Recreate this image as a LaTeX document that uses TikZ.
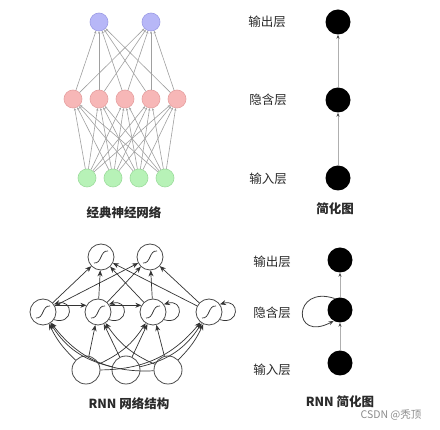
\documentclass[tikz,border=0pt]{standalone}
\usepackage{fontspec}
\newfontfamily\cjk{Noto Sans CJK SC}
\usetikzlibrary{arrows.meta,calc}
\definecolor{blueF}{HTML}{B7B7F7}
\definecolor{blueD}{HTML}{9C9CE6}
\definecolor{pinkF}{HTML}{F7B7B7}
\definecolor{pinkD}{HTML}{E6A0A0}
\definecolor{greenF}{HTML}{B7F2B7}
\definecolor{greenD}{HTML}{9CDC9C}
\definecolor{txt}{HTML}{2A2A2A}
\begin{document}
\begin{tikzpicture}[x=1pt,y=-1pt,
  cnode/.style={circle,minimum size=18pt,inner sep=0pt,line width=0.6pt},
  tedge/.style={draw={rgb,255:red,160;green,160;blue,160},line width=0.6pt,-{Stealth[length=2.5pt,width=2.2pt]}},
  bnode/.style={circle,fill=black,minimum size=25pt,inner sep=0pt},
  sedge/.style={draw={rgb,255:red,175;green,175;blue,175},line width=0.8pt,-{Stealth[length=4pt,width=3pt,color=black!70]}},
  rnode/.style={circle,draw=black!70,line width=0.8pt,fill=white,minimum size=#1,inner sep=0pt},
  rarrow/.style={draw=black!80,line width=0.7pt,-{Stealth[length=6pt,width=5pt]}},
  sig/.style={draw=black!80,line width=0.7pt},
  lab/.style={font=\cjk\fontsize{12.5}{14}\selectfont,text=txt},
  captext/.style={font=\cjk\bfseries\fontsize{12.5}{14}\selectfont,text=txt}]
\path[fill=white,use as bounding box] (0,0) rectangle (440,430);

% ---------- classical network ----------
\node[cnode,fill=blueF,draw=blueD] (b1) at (99,22) {};
\node[cnode,fill=blueF,draw=blueD] (b2) at (151,22) {};
\node[cnode,fill=pinkF,draw=pinkD] (p1) at (73,99) {};
\node[cnode,fill=pinkF,draw=pinkD] (p2) at (99,99) {};
\node[cnode,fill=pinkF,draw=pinkD] (p3) at (125,99) {};
\node[cnode,fill=pinkF,draw=pinkD] (p4) at (151,99) {};
\node[cnode,fill=pinkF,draw=pinkD] (p5) at (177,99) {};
\node[cnode,fill=greenF,draw=greenD] (g1) at (87,178) {};
\node[cnode,fill=greenF,draw=greenD] (g2) at (113,178) {};
\node[cnode,fill=greenF,draw=greenD] (g3) at (139,178) {};
\node[cnode,fill=greenF,draw=greenD] (g4) at (165,178) {};
\foreach \i in {1,...,4}
  \foreach \j in {1,...,5}
    \draw[tedge] (g\i) -- (p\j);
\foreach \i in {1,...,5}
  \foreach \j in {1,2}
    \draw[tedge] (p\i) -- (b\j);
\node[captext] (cap1) at (124,213) {经典神经网络};

% ---------- simplified ----------
\node[bnode] (t1) at (338,22) {};
\node[bnode] (t2) at (338,100) {};
\node[bnode] (t3) at (338,178) {};
\draw[sedge] (t3) -- (t2);
\draw[sedge] (t2) -- (t1);
\node[lab] (l1) at (267,22) {输出层};
\node[lab] (l2) at (268,100) {隐含层};
\node[lab] (l3) at (268,179) {输入层};
\node[captext] (cap2) at (335,209) {简化图};

% ---------- RNN network ----------
\node[rnode=26pt] (o1) at (101,257) {};
\node[rnode=26pt] (o2) at (150,257) {};
\node[rnode=26pt] (h1) at (43,312) {};
\node[rnode=26pt] (h2) at (98,312) {};
\node[rnode=26pt] (h3) at (153,312) {};
\node[rnode=26pt] (h4) at (209,312) {};
\node[rnode=28pt] (i1) at (86,370) {};
\node[rnode=28pt] (i2) at (126,370) {};
\node[rnode=28pt] (i3) at (168,370) {};
% self loops
\foreach \n in {h1,h2,h3,h4}
  \draw[rarrow] (\n.-35) .. controls +(20,6) and +(20,-6) .. (\n.35);
\draw[rarrow] (h1.30) -- (h2.150);
\draw[rarrow] (h2.30) -- (h3.150);
% input -> hidden
\draw[rarrow] (i1) to[bend left=10] (h1);
\draw[rarrow] (i1) to (h2);
\draw[rarrow] (i1) to[bend right=16] (h3);
\draw[rarrow] (i1) to[bend right=25] (h4);
\draw[rarrow] (i2) to[bend left=22] (h1);
\draw[rarrow] (i2) to (h2);
\draw[rarrow] (i2) to (h3);
\draw[rarrow] (i2) to[bend right=22] (h4);
\draw[rarrow] (i3) to[bend left=28] (h1);
\draw[rarrow] (i3) to[bend left=16] (h2);
\draw[rarrow] (i3) to (h3);
\draw[rarrow] (i3) to[bend right=10] (h4);
% hidden -> output
\foreach \h in {h1,h2,h3,h4}
  \foreach \o in {o1,o2}
    \draw[rarrow] (\h) -- (\o);
% sigmoid glyphs
\foreach \n in {o1,o2,h1,h2,h3,h4}
  \draw[sig] ($(\n)+(-7,6)$) .. controls ($(\n)+(1,7)$) and ($(\n)+(-1,-7)$) .. ($(\n)+(7,-6)$);
\node[captext] (cap3) at (129,404) {RNN 网络结构};

% ---------- RNN simplified ----------
\node[bnode] (s1) at (340,260) {};
\node[bnode] (s2) at (340,310) {};
\node[bnode] (s3) at (340,363) {};
\draw[sedge] (s3) -- (s2);
\draw[sedge] (s2) -- (s1);
\draw[draw=black!75,line width=0.8pt,-{Stealth[length=5pt,width=4pt]}] (s2.115) .. controls +(-42,-14) and +(-42,22) .. (s2.-120);
\node[lab] (m1) at (272,262) {输出层};
\node[lab] (m2) at (272,313) {隐含层};
\node[lab] (m3) at (272,370) {输入层};
\node[captext] (cap4) at (340,402) {RNN 简化图};
\node[font=\cjk\fontsize{10.5}{12}\selectfont,text=black!45] (wm) at (391,415) {CSDN @秃顶};
\end{tikzpicture}
\end{document}
